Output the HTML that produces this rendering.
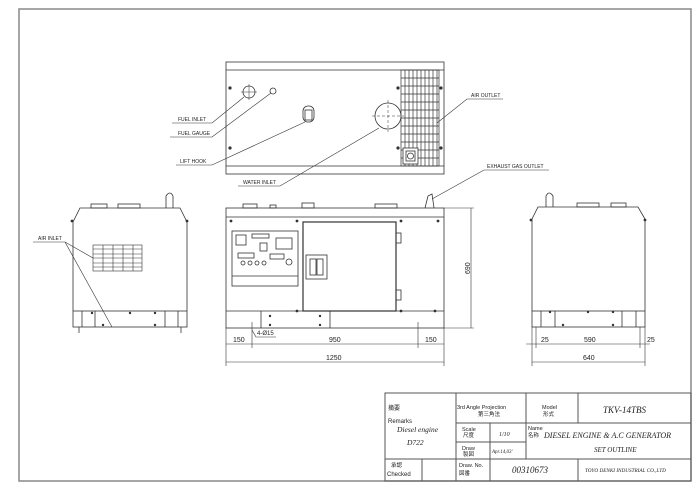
<!DOCTYPE html>
<html><head><meta charset="utf-8"><style>
html,body{margin:0;padding:0;background:#fff;width:700px;height:494px;overflow:hidden}
svg{display:block}
text{font-family:"Liberation Sans","Noto Sans CJK JP",sans-serif;fill:#222}
.s{font-family:"Liberation Serif","Noto Serif CJK SC",serif;font-style:italic}
</style></head><body>
<svg width="700" height="494" viewBox="0 0 700 494" xmlns="http://www.w3.org/2000/svg" fill="none" stroke="#333" stroke-width="0.8">
<!-- frame -->
<rect x="19" y="9" width="672" height="472" stroke="#888" stroke-width="1.5"/>

<!-- TOP VIEW -->
<rect x="226" y="62" width="218" height="112"/>
<line x1="226" y1="70" x2="444" y2="70"/><line x1="226" y1="166" x2="444" y2="166"/>
<g stroke-width="0.7">
<rect x="401" y="70" width="38" height="96"/>
<line x1="405" y1="70" x2="405" y2="166"/><line x1="409" y1="70" x2="409" y2="166"/><line x1="413" y1="70" x2="413" y2="166"/><line x1="417" y1="70" x2="417" y2="166"/><line x1="421" y1="70" x2="421" y2="166"/><line x1="425" y1="70" x2="425" y2="166"/><line x1="429" y1="70" x2="429" y2="166"/><line x1="433" y1="70" x2="433" y2="166"/><line x1="437" y1="70" x2="437" y2="166"/>
<line x1="401" y1="78" x2="439" y2="78"/><line x1="401" y1="86" x2="439" y2="86"/><line x1="401" y1="94" x2="439" y2="94"/><line x1="401" y1="102" x2="439" y2="102"/><line x1="401" y1="110" x2="439" y2="110"/><line x1="401" y1="118" x2="439" y2="118"/><line x1="401" y1="126" x2="439" y2="126"/><line x1="401" y1="134" x2="439" y2="134"/><line x1="401" y1="142" x2="439" y2="142"/><line x1="401" y1="150" x2="439" y2="150"/><line x1="401" y1="158" x2="439" y2="158"/>
</g>
<rect x="403" y="148" width="15" height="16" fill="#fff"/><rect x="406" y="151" width="9" height="10"/><circle cx="410.5" cy="156" r="3"/>
<g fill="#333" stroke="none"><circle cx="230" cy="88" r="1.6"/><circle cx="230" cy="148" r="1.6"/><circle cx="398" cy="88" r="1.6"/><circle cx="441" cy="88" r="1.6"/><circle cx="398" cy="148" r="1.6"/><circle cx="441" cy="148" r="1.6"/></g>
<circle cx="249" cy="92" r="6"/><line x1="241" y1="92" x2="257" y2="92" stroke-width="0.5"/><line x1="249" y1="84" x2="249" y2="100" stroke-width="0.5"/>
<circle cx="273" cy="91" r="3"/>
<rect x="303" y="106" width="11" height="16" rx="5"/><rect x="305" y="110" width="7" height="10"/>
<circle cx="388" cy="116" r="13"/><line x1="388" y1="100" x2="388" y2="132" stroke-width="0.5" stroke-dasharray="3 2"/><line x1="372" y1="116" x2="404" y2="116" stroke-width="0.5" stroke-dasharray="3 2"/>
<!-- leaders -->
<g stroke-width="0.6">
<polyline points="172,123 212,123 244,97"/>
<polyline points="170,137 212,137 271,93"/>
<polyline points="176,165 212,165 305,122"/>
<polyline points="238,186 280,186 379,128"/>
<polyline points="503,99 467,99 437,123"/>
<polyline points="549,170 484,170 432,199"/>
<polyline points="33,242 65,242 93,258"/><line x1="65" y1="242" x2="112" y2="327"/>
</g>
<g font-size="5" stroke="none">
<text x="178" y="121">FUEL INLET</text><text x="178" y="135">FUEL GAUGE</text><text x="180" y="163">LIFT HOOK</text>
<text x="243" y="184">WATER INLET</text><text x="471" y="97">AIR OUTLET</text><text x="487" y="168">EXHAUST GAS OUTLET</text>
<text x="38" y="240">AIR INLET</text>
</g>

<!-- FRONT VIEW -->
<rect x="226" y="208" width="218" height="120"/>
<line x1="226" y1="217" x2="444" y2="217"/>
<line x1="226" y1="311" x2="444" y2="311"/>
<line x1="261" y1="311" x2="261" y2="328"/><line x1="330" y1="311" x2="330" y2="328"/>
<rect x="243" y="204" width="14" height="4"/><rect x="270" y="205" width="6" height="3"/><rect x="302" y="203" width="12" height="5"/><rect x="375" y="204" width="22" height="4"/>
<path d="M425 208 L428 196 L432 194 L434 208"/>
<rect x="303" y="222" width="93" height="89" stroke-width="1.2"/>
<rect x="306" y="255" width="21" height="24"/><rect x="310" y="259" width="6" height="16"/><rect x="317" y="259" width="6" height="16"/>
<rect x="396" y="233" width="5" height="10"/><rect x="396" y="290" width="5" height="10"/>
<rect x="232" y="231" width="66" height="55"/><line x1="232" y1="276" x2="298" y2="276"/>
<rect x="236" y="235" width="10" height="10"/><rect x="252" y="234" width="17" height="4"/><rect x="260" y="243" width="7" height="8"/>
<rect x="276" y="238" width="16" height="11"/><rect x="238" y="253" width="16" height="5"/><rect x="270" y="254" width="14" height="5"/><circle cx="289" cy="262" r="3"/>
<circle cx="243" cy="263" r="2"/><circle cx="250" cy="263" r="2"/><circle cx="257" cy="263" r="2"/><circle cx="264" cy="263" r="2"/>
<g fill="#333" stroke="none"><circle cx="231" cy="221" r="1.4"/><circle cx="297" cy="221" r="1.4"/><circle cx="401" cy="221" r="1.4"/><circle cx="438" cy="221" r="1.4"/><circle cx="231" cy="219" r="0"/><circle cx="297" cy="311" r="1.4"/><circle cx="401" cy="311" r="1.4"/><circle cx="435" cy="311" r="1.4"/><circle cx="270" cy="316" r="1.2"/><circle cx="320" cy="316" r="1.2"/><circle cx="270" cy="325" r="1.2"/><circle cx="320" cy="325" r="1.2"/></g>
<!-- dims front -->
<g stroke-width="0.6">
<line x1="444" y1="208" x2="474" y2="208"/><line x1="444" y1="328" x2="474" y2="328"/><line x1="471" y1="208" x2="471" y2="328"/>
<line x1="226" y1="328" x2="226" y2="366"/><line x1="444" y1="328" x2="444" y2="366"/>
<line x1="252" y1="322" x2="252" y2="348"/><line x1="418" y1="322" x2="418" y2="348"/>
<line x1="226" y1="344" x2="444" y2="344"/><line x1="226" y1="362" x2="444" y2="362"/>
<polyline points="252,330 256,337 276,337"/>
</g>
<g font-size="7" stroke="none">
<text x="233" y="342">150</text><text x="329" y="342">950</text><text x="425" y="342">150</text><text x="326" y="360">1250</text>
<text x="257" y="335" font-size="6">4-Ø15</text>
<text x="0" y="0" transform="translate(470,274) rotate(-90)">690</text>
</g>

<!-- LEFT VIEW -->
<path d="M73 311 L73 222 L80 208 L180 208 L187 222 L187 311"/>
<rect x="73" y="311" width="114" height="16"/>
<line x1="82" y1="311" x2="82" y2="327"/><line x1="178" y1="311" x2="178" y2="327"/><line x1="95" y1="311" x2="95" y2="327"/><line x1="165" y1="311" x2="165" y2="327"/>
<line x1="79" y1="327" x2="79" y2="333"/><line x1="181" y1="327" x2="181" y2="333"/>
<rect x="91" y="204" width="16" height="4"/><rect x="118" y="204" width="22" height="4"/><path d="M166 208 L166 196 Q170 190 173 196 L173 208"/>
<g stroke-width="0.6"><rect x="93" y="245" width="49" height="26"/>
<line x1="103" y1="245" x2="103" y2="271"/><line x1="113" y1="245" x2="113" y2="271"/><line x1="123" y1="245" x2="123" y2="271"/><line x1="133" y1="245" x2="133" y2="271"/>
<line x1="93" y1="249" x2="142" y2="249"/><line x1="93" y1="254" x2="142" y2="254"/><line x1="93" y1="258" x2="142" y2="258"/><line x1="93" y1="263" x2="142" y2="263"/><line x1="93" y1="267" x2="142" y2="267"/></g>
<g fill="#333" stroke="none"><circle cx="72" cy="221" r="1.4"/><circle cx="187" cy="221" r="1.4"/><circle cx="92" cy="313" r="1.2"/><circle cx="130" cy="313" r="1.2"/><circle cx="155" cy="313" r="1.2"/><circle cx="103" cy="325" r="1.2"/><circle cx="155" cy="325" r="1.2"/></g>

<!-- RIGHT VIEW -->
<path d="M532 311 L532 219 L538 207 L638 207 L645 219 L645 311"/>
<rect x="532" y="311" width="113" height="16"/>
<line x1="541" y1="311" x2="541" y2="327"/><line x1="636" y1="311" x2="636" y2="327"/><line x1="555" y1="311" x2="555" y2="327"/><line x1="622" y1="311" x2="622" y2="327"/>
<path d="M546 207 L546 196 Q549 190 553 196 L553 207"/><rect x="577" y="203" width="22" height="4"/><rect x="611" y="203" width="15" height="4"/>
<g fill="#333" stroke="none"><circle cx="531" cy="220" r="1.4"/><circle cx="645" cy="220" r="1.4"/><circle cx="550" cy="312" r="1.2"/><circle cx="588" cy="312" r="1.2"/><circle cx="613" cy="312" r="1.2"/><circle cx="563" cy="325" r="1.2"/><circle cx="613" cy="325" r="1.2"/></g>
<g stroke-width="0.6">
<line x1="532" y1="327" x2="532" y2="366"/><line x1="645" y1="327" x2="645" y2="366"/>
<line x1="536" y1="327" x2="536" y2="348"/><line x1="640" y1="327" x2="640" y2="348"/>
<line x1="526" y1="344" x2="650" y2="344"/><line x1="532" y1="362" x2="645" y2="362"/>
</g>
<g font-size="7" stroke="none">
<text x="541" y="342">25</text><text x="584" y="342">590</text><text x="647" y="342">25</text><text x="583" y="360">640</text>
</g>

<!-- TITLE BLOCK -->
<g stroke="#555" stroke-width="1">
<rect x="385" y="393" width="306" height="88"/>
<line x1="456" y1="393" x2="456" y2="481"/><line x1="526" y1="393" x2="526" y2="459"/><line x1="578" y1="393" x2="578" y2="423"/><line x1="578" y1="459" x2="578" y2="481"/>
<line x1="456" y1="423" x2="691" y2="423"/><line x1="456" y1="442" x2="526" y2="442"/><line x1="385" y1="459" x2="691" y2="459"/>
<line x1="422" y1="459" x2="422" y2="481"/><line x1="490" y1="423" x2="490" y2="481"/>
</g>
<g stroke="none" font-size="6">
<text x="388" y="410">摘要</text><text x="388" y="423">Remarks</text>
<text x="397" y="432" class="s" font-size="7.5">Diesel engine</text><text x="407" y="445" class="s" font-size="7.5">D722</text>
<text x="457" y="409" font-size="5.5">3rd Angle Projection</text><text x="478" y="416" font-size="5.5">第三角法</text>
<text x="542" y="409" font-size="5.5">Model</text><text x="543" y="416" font-size="5.5">形式</text>
<text x="603" y="413" class="s" font-size="9">TKV-14TBS</text>
<text x="462" y="431" font-size="5.5">Scale</text><text x="463" y="437" font-size="5.5">尺度</text><text x="499" y="436" class="s">1/10</text>
<text x="462" y="450" font-size="5.5">Draw</text><text x="463" y="456" font-size="5.5">製図</text><text x="492" y="453" class="s" font-size="5">Apr.14,03'</text>
<text x="528" y="430" font-size="5.5">Name</text><text x="528" y="437" font-size="5.5">名称</text>
<text x="544" y="438" class="s" font-size="8">DIESEL ENGINE &amp; A.C GENERATOR</text>
<text x="594" y="452" class="s" font-size="7">SET OUTLINE</text>
<text x="391" y="467" font-size="5.5">承認</text><text x="387" y="476">Checked</text>
<text x="459" y="467" font-size="5.5">Draw. No.</text><text x="459" y="475" font-size="5.5">図番</text>
<text x="512" y="473" class="s" font-size="9">00310673</text>
<text x="585" y="472" class="s" font-size="5.2">TOYO DENKI INDUSTRIAL CO.,LTD</text>
</g>
</svg>
</body></html>
